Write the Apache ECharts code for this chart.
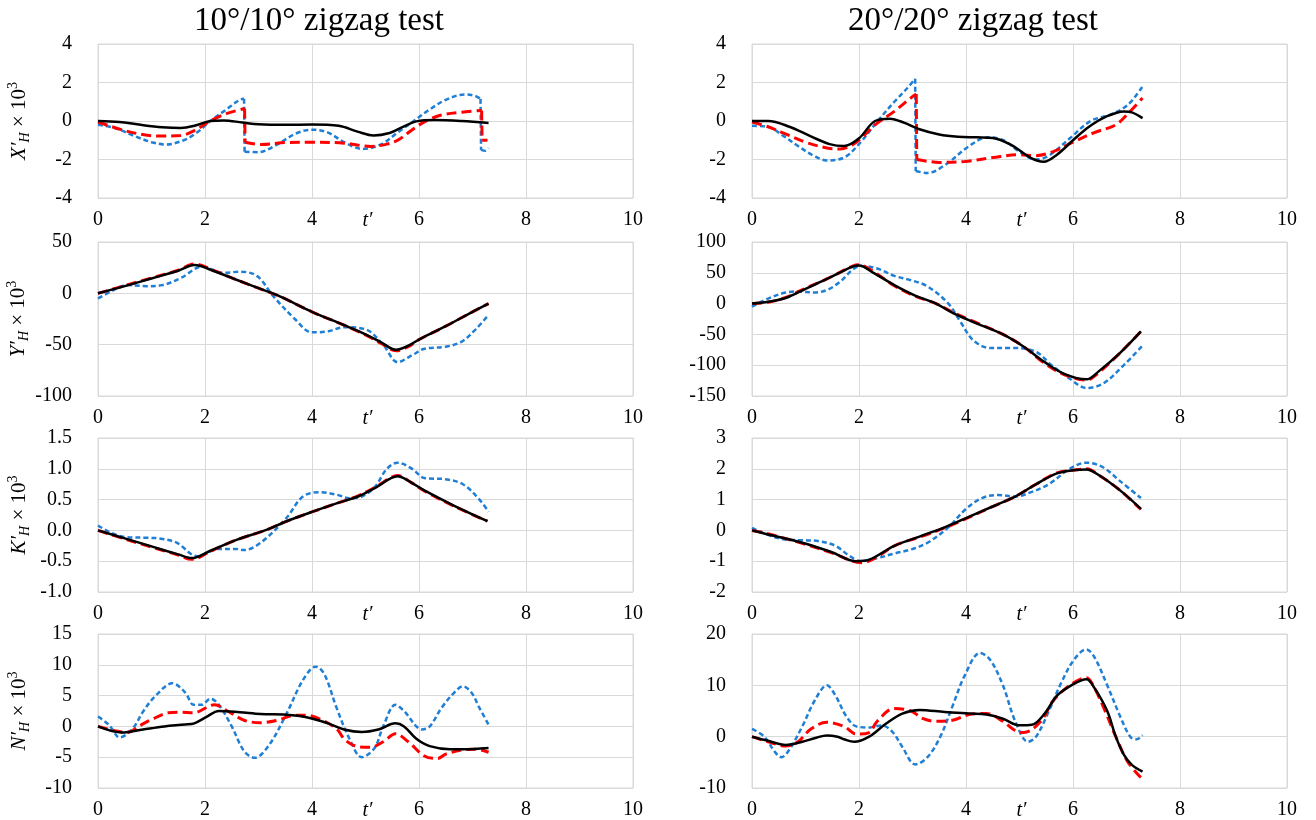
<!DOCTYPE html>
<html>
<head>
<meta charset="utf-8">
<script src="https://cdn.jsdelivr.net/npm/echarts@6/dist/echarts.min.js"></script>
<style>
html,body{margin:0;padding:0;background:#fff;}
#chart{width:1316px;height:820px;}
</style>
</head>
<body>
<div id="chart"></div>
<script>
// ---------- Titles / tick settings ----------
const columnTitles = ['10°/10° zigzag test', '20°/20° zigzag test'];
const xTicks = {min: 0, max: 10, interval: 2};
const yMins = [-4, -4, -100, -150, -1, -2, -10, -10];
const yMaxs = [4, 4, 50, 100, 1.5, 3, 15, 20];
const yIntervals = [2, 2, 50, 50, 0.5, 1, 5, 10];
const yLetters = ['X', 'Y', 'K', 'N'];

// ---------- X'H (10/10) ----------
const X10_black = [[0,0],[0.4,-0.05],[0.8,-0.2],[1.2,-0.32],[1.55,-0.36],[1.8,-0.25],[2.1,0],[2.35,0.03],[2.7,-0.08],[3.0,-0.17],[3.5,-0.2],[4.0,-0.18],[4.5,-0.25],[4.85,-0.55],[5.15,-0.75],[5.45,-0.62],[5.7,-0.3],[5.95,-0.02],[6.3,0.05],[6.8,0],[7.3,-0.1]];
const X10_red = [[0,-0.05],[0.5,-0.5],[0.92,-0.74],[1.2,-0.78],[1.55,-0.75],[1.8,-0.5],[2.1,0],[2.4,0.38],[2.74,0.65],[2.75,-1.1],[3.05,-1.22],[3.5,-1.12],[4.0,-1.1],[4.6,-1.15],[5.1,-1.32],[5.4,-1.2],[5.6,-1.0],[5.9,-0.4],[6.1,-0.05],[6.4,0.3],[6.8,0.46],[7.17,0.55],[7.18,-1.0],[7.28,-1.0]];
const X10_blue = [[0,-0.2],[0.3,-0.35],[0.7,-0.8],[1.0,-1.1],[1.27,-1.22],[1.6,-1.0],[1.85,-0.6],[2.1,0],[2.4,0.6],[2.65,1.1],[2.73,1.15],[2.74,-1.6],[3.0,-1.62],[3.3,-1.3],[3.7,-0.65],[4.0,-0.45],[4.3,-0.6],[4.6,-1.1],[4.95,-1.45],[5.3,-1.2],[5.6,-0.6],[5.9,0],[6.2,0.6],[6.5,1.1],[6.85,1.38],[7.05,1.3],[7.15,1.15],[7.16,-1.5],[7.24,-1.55],[7.3,-1.4]];

// ---------- X'H (20/20) ----------
const X20_black = [[0,0],[0.3,0],[0.7,-0.3],[1.1,-0.8],[1.45,-1.2],[1.72,-1.3],[2.0,-0.9],[2.3,0],[2.58,0.12],[2.85,-0.1],[3.1,-0.4],[3.5,-0.7],[3.85,-0.82],[4.2,-0.85],[4.5,-0.88],[4.85,-1.25],[5.2,-1.9],[5.45,-2.12],[5.7,-1.75],[6.0,-1.0],[6.3,-0.3],[6.6,0.2],[6.95,0.5],[7.1,0.45],[7.3,0.15]];
const X20_red = [[0,-0.05],[0.3,-0.3],[0.65,-0.7],[1.0,-1.1],[1.4,-1.4],[1.65,-1.45],[1.95,-1.1],[2.3,-0.2],[2.66,0.5],[2.97,1.2],[3.07,1.4],[3.08,-2.0],[3.5,-2.15],[3.98,-2.1],[4.5,-1.9],[5.0,-1.75],[5.3,-1.8],[5.62,-1.6],[6.0,-1.1],[6.4,-0.6],[6.8,-0.2],[7.05,0.45],[7.3,1.2]];
const X20_blue = [[0,-0.25],[0.3,-0.3],[0.6,-0.8],[0.86,-1.3],[1.15,-1.8],[1.4,-2.05],[1.72,-1.9],[2.0,-1.2],[2.35,0],[2.66,1.0],[2.9,1.7],[3.05,2.2],[3.06,-2.6],[3.28,-2.7],[3.6,-2.3],[4.06,-1.3],[4.4,-0.85],[4.7,-1.0],[5.0,-1.6],[5.3,-2.0],[5.55,-1.8],[5.94,-0.9],[6.33,0],[6.72,0.35],[7.03,0.85],[7.3,1.8]];

// ---------- Y'H (10/10) ----------
const Y10_black = [[0,0],[0.5,7],[1.0,14.5],[1.5,22],[1.8,27.5],[2.2,21],[2.6,13],[3.0,5],[3.4,-3],[4.0,-18],[4.6,-31],[5.0,-40],[5.3,-48],[5.57,-55],[5.8,-51],[6.0,-45],[6.5,-32],[7.0,-18],[7.3,-10]];
const Y10_red = [[0,0],[0.5,7.5],[1.0,15],[1.5,22.5],[1.8,28.5],[2.2,21.5],[2.6,13],[3.0,5],[3.4,-3],[4.0,-18],[4.6,-31],[5.0,-40.5],[5.3,-49],[5.57,-56],[5.8,-52],[6.0,-45],[6.5,-32],[7.0,-18],[7.3,-10]];
const Y10_blue = [[0,-5],[0.25,2],[0.53,8],[0.92,7],[1.2,8],[1.55,15],[1.95,26],[2.34,20],[2.65,21],[2.97,17],[3.28,-3],[3.68,-25],[4.0,-38],[4.3,-37],[4.6,-33],[5.0,-35],[5.33,-50],[5.6,-67],[5.88,-60],[6.1,-54],[6.5,-52],[6.8,-47],[7.06,-35],[7.3,-21]];

// ---------- Y'H (20/20) ----------
const Y20_black = [[0,0],[0.3,3],[0.63,9],[1.0,24],[1.4,40],[1.88,60],[2.0,62],[2.27,50],[2.66,30],[3.05,13],[3.44,0],[3.75,-15],[4.14,-30],[4.69,-50],[5.08,-70],[5.47,-95],[5.86,-115],[6.25,-123],[6.48,-110],[6.88,-80],[7.27,-45]];
const Y20_red = [[0,0],[0.3,2],[0.63,10],[1.0,25],[1.4,40],[1.88,61],[2.0,63],[2.27,52],[2.66,29],[3.05,12],[3.44,0],[3.75,-14],[4.14,-29],[4.69,-50],[5.08,-70],[5.47,-97],[5.86,-116],[6.25,-124],[6.48,-112],[6.88,-80],[7.27,-45]];
const Y20_blue = [[0,-5],[0.3,8],[0.63,18],[0.86,19.5],[1.17,18],[1.4,22],[1.64,35],[1.88,55],[2.03,61],[2.34,57],[2.66,45],[2.97,38],[3.28,28],[3.67,0],[3.9,-30],[4.14,-60],[4.45,-72],[4.84,-72],[5.3,-78],[5.6,-100],[5.94,-122],[6.25,-137],[6.56,-130],[6.95,-100],[7.3,-68]];

// ---------- K'H (10/10) ----------
const K10_black = [[0,0],[0.5,-0.13],[1.0,-0.26],[1.5,-0.39],[1.75,-0.45],[2.1,-0.33],[2.6,-0.15],[3.12,0],[3.5,0.14],[4.0,0.3],[4.5,0.45],[4.86,0.55],[5.2,0.7],[5.6,0.88],[5.85,0.78],[6.1,0.65],[6.66,0.4],[7.28,0.15]];
const K10_red = [[0,0],[0.5,-0.14],[1.0,-0.27],[1.5,-0.4],[1.75,-0.47],[2.1,-0.34],[2.6,-0.15],[3.12,0],[3.5,0.14],[4.0,0.3],[4.5,0.45],[4.86,0.56],[5.2,0.71],[5.6,0.89],[5.85,0.78],[6.1,0.64],[6.66,0.39],[7.28,0.15]];
const K10_blue = [[0,0.08],[0.45,-0.1],[0.92,-0.12],[1.15,-0.13],[1.47,-0.2],[1.86,-0.42],[2.26,-0.3],[2.57,-0.3],[2.73,-0.32],[3.04,-0.2],[3.52,0.2],[3.83,0.55],[4.15,0.62],[4.46,0.58],[4.7,0.52],[4.93,0.55],[5.17,0.7],[5.4,1.0],[5.6,1.1],[5.87,1.0],[6.1,0.85],[6.5,0.83],[6.82,0.75],[7.13,0.5],[7.3,0.3]];

// ---------- K'H (20/20) ----------
const K20_black = [[0,0],[0.23,-0.1],[0.94,-0.4],[1.48,-0.7],[1.95,-1.0],[2.19,-0.95],[2.66,-0.5],[3.13,-0.2],[3.6,0.1],[4.0,0.4],[4.53,0.8],[4.92,1.1],[5.31,1.5],[5.7,1.85],[6.0,1.95],[6.25,1.98],[6.48,1.8],[6.88,1.3],[7.27,0.7]];
const K20_red = [[0,0],[0.23,-0.08],[0.94,-0.42],[1.48,-0.72],[2.05,-1.05],[2.3,-0.9],[2.66,-0.5],[3.13,-0.22],[3.6,0.08],[4.0,0.38],[4.53,0.8],[4.92,1.1],[5.31,1.5],[5.7,1.87],[6.0,1.95],[6.25,2.0],[6.48,1.8],[6.88,1.3],[7.27,0.68]];
const K20_blue = [[0,0.08],[0.23,-0.1],[0.63,-0.3],[0.94,-0.32],[1.25,-0.35],[1.56,-0.5],[1.8,-0.8],[2.03,-1.0],[2.34,-0.9],[2.66,-0.75],[2.97,-0.62],[3.28,-0.4],[3.67,0.1],[4.0,0.7],[4.3,1.05],[4.6,1.15],[4.92,1.1],[5.23,1.25],[5.55,1.5],[5.94,2.0],[6.25,2.2],[6.56,2.05],[6.88,1.6],[7.27,1.05]];

// ---------- N'H (10/10) ----------
const N10_black = [[0,0],[0.45,-1],[0.84,-0.5],[1.24,0],[1.63,0.3],[1.8,0.5],[2.02,1.5],[2.26,2.5],[2.65,2.3],[3.04,2.0],[3.52,1.9],[3.9,1.5],[4.3,0.5],[4.6,-0.5],[4.93,-0.9],[5.24,-0.5],[5.56,0.5],[5.72,0],[5.95,-2],[6.2,-3.2],[6.58,-3.7],[6.82,-3.7],[7.3,-3.5]];
const N10_red = [[0,0],[0.37,-0.8],[0.53,-1],[0.84,0.4],[1.0,1.1],[1.31,2.2],[1.55,2.3],[1.78,2.2],[2.18,3.5],[2.42,2.5],[2.73,1.0],[3.04,0.6],[3.36,1.0],[3.67,1.8],[3.9,1.8],[4.15,1.2],[4.46,-0.4],[4.62,-2.2],[4.86,-3.3],[5.09,-3.4],[5.33,-2.5],[5.56,-1.2],[5.8,-2.5],[6.1,-4.8],[6.35,-5.2],[6.5,-4.5],[6.83,-3.8],[7.06,-3.7],[7.3,-4.2]];
const N10_blue = [[0,1.6],[0.2,0.3],[0.41,-1.8],[0.55,-1.2],[0.68,0],[0.85,2.5],[1.08,5],[1.39,7],[1.63,5.5],[1.79,3.5],[1.94,3.5],[2.1,4.5],[2.26,3.5],[2.5,0],[2.73,-4],[2.93,-5.1],[3.2,-3],[3.52,2],[3.83,7.5],[4.07,9.7],[4.23,8.5],[4.46,3],[4.7,-2],[4.93,-5],[5.17,-3.5],[5.33,0],[5.56,3.5],[5.72,2.5],[5.95,0],[6.05,-0.5],[6.2,0],[6.42,3],[6.66,5.5],[6.82,6.5],[6.98,5.5],[7.13,3],[7.3,0.3]];

// ---------- N'H (20/20) ----------
const N20_black = [[0,0],[0.3,-0.8],[0.63,-1.6],[0.94,-1],[1.2,-0.2],[1.4,0.25],[1.6,0],[1.72,-0.5],[1.91,-1],[2.19,0],[2.5,2.5],[2.81,4.5],[3.13,5.2],[3.6,4.8],[4.06,4.5],[4.38,4.3],[4.69,3.5],[5.0,2.2],[5.23,2.3],[5.47,4.5],[5.7,8],[6.0,10.2],[6.25,11.2],[6.4,9.5],[6.64,5],[6.8,0],[6.95,-3.5],[7.1,-5.5],[7.3,-6.8]];
const N20_red = [[0,0],[0.3,-1],[0.63,-1.8],[0.86,-1],[1.1,1.5],[1.4,2.8],[1.72,2.0],[1.95,0.5],[2.19,0.8],[2.34,3],[2.66,5.5],[2.97,5.0],[3.2,3.5],[3.44,3.0],[3.75,3.2],[4.06,4.3],[4.38,4.5],[4.69,3.0],[4.92,1.2],[5.08,0.8],[5.4,3],[5.63,7],[5.94,10],[6.25,11.5],[6.4,9.5],[6.6,5],[6.8,0],[7.03,-5],[7.3,-8.3]];
const N20_blue = [[0,1.5],[0.23,0],[0.43,-3],[0.55,-4],[0.7,-2.5],[0.94,2],[1.17,7],[1.4,10],[1.56,8],[1.76,4],[1.95,2],[2.19,1.8],[2.42,2.2],[2.62,1],[2.81,-2],[3.05,-5.4],[3.28,-4],[3.52,0],[3.75,6],[3.98,12],[4.26,16.3],[4.45,15],[4.69,10],[4.92,3],[5.16,-1],[5.31,0],[5.55,5],[5.78,10.5],[6.02,15],[6.25,17],[6.4,15.5],[6.64,10],[6.88,4],[7.07,0],[7.19,-0.5],[7.3,0.3]];

const panelData = [
  [X10_blue, X10_red, X10_black], [X20_blue, X20_red, X20_black],
  [Y10_blue, Y10_red, Y10_black], [Y20_blue, Y20_red, Y20_black],
  [K10_blue, K10_red, K10_black], [K20_blue, K20_red, K20_black],
  [N10_blue, N10_red, N10_black], [N20_blue, N20_red, N20_black]
];

// ---------- layout / style ----------
const FONT = 'Liberation Serif';
const colLefts = [98, 752];
const rowTops = [44, 242, 438, 634];
const plotW = 535, plotH = 154;
const gridColor = '#d9d9d9';
const lineStyles = [
  {color: '#1f7fd4', width: 2.5, type: [5, 3]},
  {color: '#ff0000', width: 3, type: [10, 5]},
  {color: '#000000', width: 2.5, type: 'solid'}
];

// split a curve at vertical jumps: smooth pieces + straight connectors
function splitAtJumps(d) {
  const parts = [];
  let cur = [d[0]];
  for (let i = 1; i < d.length; i++) {
    if (d[i][0] - d[i - 1][0] < 0.03) {
      parts.push({data: cur, smooth: 0.35});
      parts.push({data: [d[i - 1], d[i]], smooth: false});
      cur = [d[i]];
    } else {
      cur.push(d[i]);
    }
  }
  parts.push({data: cur, smooth: 0.35});
  return parts;
}

const chart = echarts.init(document.getElementById('chart'), null, {renderer: 'canvas'});
const grids = [], xAxes = [], yAxes = [], series = [], graphics = [];
for (let p = 0; p < 8; p++) {
  const row = Math.floor(p / 2), col = p % 2;
  grids.push({left: colLefts[col], top: rowTops[row], width: plotW, height: plotH,
    show: true, borderColor: gridColor, borderWidth: 1, containLabel: false});
  xAxes.push({
    type: 'value', gridIndex: p, min: xTicks.min, max: xTicks.max, interval: xTicks.interval,
    axisLine: {show: false, onZero: false}, axisTick: {show: false},
    splitLine: {show: true, lineStyle: {color: gridColor, width: 1}},
    axisLabel: {fontFamily: FONT, fontSize: 20, color: '#000', margin: 12}
  });
  const yAx = {
    type: 'value', gridIndex: p, min: yMins[p], max: yMaxs[p], interval: yIntervals[p],
    axisLine: {show: false}, axisTick: {show: false},
    splitLine: {show: true, lineStyle: {color: gridColor, width: 1}},
    axisLabel: {fontFamily: FONT, fontSize: 20, color: '#000', margin: 26,
      formatter: (p === 4) ? (v => v.toFixed(1)) : (v => String(v))}
  };
  if (col === 0) {
    yAx.name = '{i|' + yLetters[row] + '′}{s|H}{n| × 10}{p|3}';
    yAx.nameLocation = 'middle';
    yAx.nameRotate = 90;
    yAx.nameGap = 66;
    yAx.nameTextStyle = {
      fontFamily: FONT, color: '#000',
      rich: {
        i: {fontFamily: FONT, fontSize: 21, fontStyle: 'italic', color: '#000', lineHeight: 26, verticalAlign: 'middle'},
        s: {fontFamily: FONT, fontSize: 14, fontStyle: 'italic', color: '#000', lineHeight: 26, verticalAlign: 'bottom'},
        n: {fontFamily: FONT, fontSize: 21, color: '#000', lineHeight: 26, verticalAlign: 'middle'},
        p: {fontFamily: FONT, fontSize: 14, color: '#000', lineHeight: 26, verticalAlign: 'top'}
      }
    };
  }
  yAxes.push(yAx);
  // t' label in the tick-label row, between 4 and 6
  graphics.push({
    type: 'text', x: colLefts[col] + plotW / 2 + 2, y: rowTops[row] + plotH + 23,
    style: {text: 't′', font: 'italic 20px "Liberation Serif"', fill: '#000', textAlign: 'center', textVerticalAlign: 'middle'}
  });
  panelData[p].forEach((d, k) => {
    splitAtJumps(d).forEach(part => {
      series.push({
        type: 'line', xAxisIndex: p, yAxisIndex: p, data: part.data,
        showSymbol: false, symbol: 'none', smooth: part.smooth,
        lineStyle: lineStyles[k], silent: true, animation: false, z: 2 + k
      });
    });
  });
}
columnTitles.forEach((t, i) => {
  graphics.push({
    type: 'text', x: [319, 973][i], y: 21,
    style: {text: t, font: '33px "Liberation Serif"', fill: '#000', textAlign: 'center', textVerticalAlign: 'middle'}
  });
});

chart.setOption({
  backgroundColor: '#ffffff',
  animation: false,
  grid: grids, xAxis: xAxes, yAxis: yAxes, series: series,
  graphic: graphics
});
</script>
</body>
</html>
